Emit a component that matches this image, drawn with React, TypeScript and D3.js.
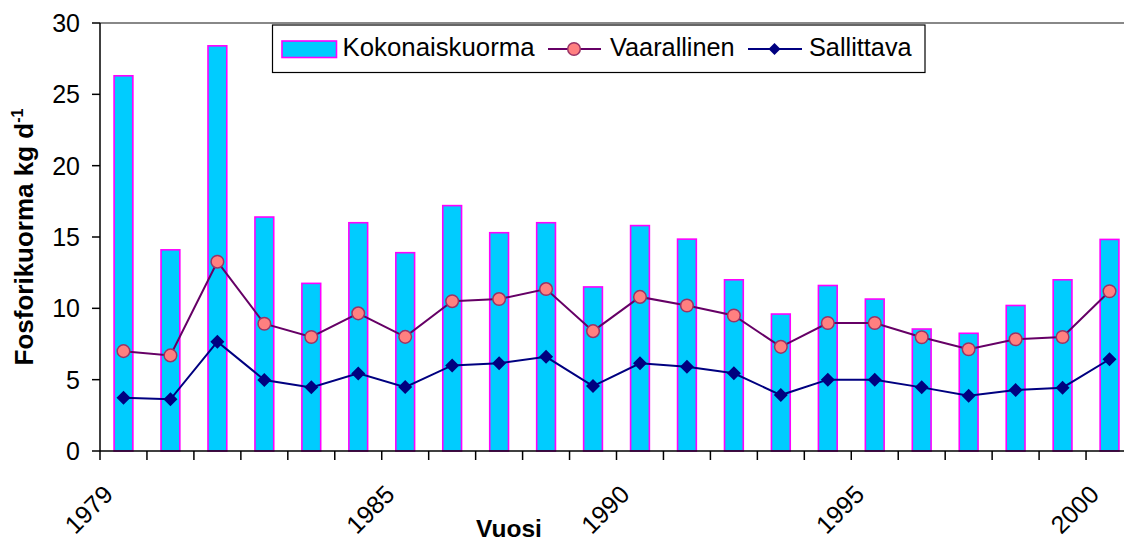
import React from "react";
import * as d3 from "d3";

const years = d3.range(1979, 2001).map(String);
const kokonaiskuorma = [26.3, 14.1, 28.4, 16.4, 11.75, 16.0, 13.9, 17.2, 15.3, 16.0, 11.5, 15.8, 14.85, 12.0, 9.6, 11.6, 10.65, 8.55, 8.25, 10.2, 12.0, 14.83];
const vaarallinen = [7.0, 6.7, 13.27, 8.92, 7.99, 9.65, 8.0, 10.5, 10.65, 11.35, 8.4, 10.8, 10.2, 9.5, 7.3, 8.97, 8.97, 7.97, 7.13, 7.83, 7.99, 11.2];
const sallittava = [3.74, 3.62, 7.66, 4.98, 4.46, 5.44, 4.48, 6.0, 6.15, 6.6, 4.55, 6.15, 5.9, 5.45, 3.92, 5.0, 5.0, 4.46, 3.88, 4.27, 4.44, 6.43];
const yTicks = [0, 5, 10, 15, 20, 25, 30];
const xLabels = ["1979", "1985", "1990", "1995", "2000"];

const W = 1124, H = 542;
const left = 100, top = 23, bottom = 451, right = 1133;
const FONT = "'Liberation Sans', Arial, sans-serif";

export default function App() {
  const x = d3.scaleBand<string>().domain(years).range([left, right]).paddingInner(0).paddingOuter(0);
  const y = d3.scaleLinear().domain([0, 30]).range([bottom, top]);
  const bw = x.bandwidth();
  const barW = bw * 0.4;
  const cx = (yr: string) => (x(yr) as number) + bw / 2;
  const line = d3.line<number>().x((_, i) => cx(years[i])).y((v) => y(v));
  const diamond = (px: number, py: number, r: number) => `M${px},${py - r}L${px + r},${py}L${px},${py + r}L${px - r},${py}Z`;

  return (
    <svg width={W} height={H} style={{ position: "absolute", left: 0, top: 0, background: "#fff" }} fontFamily={FONT}>
      <rect width={W} height={H} fill="#fff" />
      {/* top gridline */}
      <line x1={left} x2={W} y1={y(30)} y2={y(30)} stroke="#888" strokeWidth={2} />
      {/* bars */}
      {years.map((yr, i) => (
        <rect key={yr} x={cx(yr) - barW / 2} y={y(kokonaiskuorma[i])} width={barW} height={bottom - y(kokonaiskuorma[i])}
          fill="#00CCFF" stroke="#FF00FF" strokeWidth={1.6} />
      ))}
      {/* Vaarallinen */}
      <path d={line(vaarallinen) as string} fill="none" stroke="#660066" strokeWidth={2} />
      {vaarallinen.map((v, i) => (
        <circle key={i} cx={cx(years[i])} cy={y(v)} r={6.3} fill="#FF8080" stroke="#993366" strokeWidth={1.5} />
      ))}
      {/* Sallittava */}
      <path d={line(sallittava) as string} fill="none" stroke="#000080" strokeWidth={2} />
      {sallittava.map((v, i) => (
        <path key={i} d={diamond(cx(years[i]), y(v), 7)} fill="#000080" />
      ))}
      {/* axes */}
      <line x1={left} x2={left} y1={top} y2={bottom} stroke="#000" strokeWidth={1.5} />
      <line x1={left} x2={W} y1={bottom} y2={bottom} stroke="#000" strokeWidth={1.5} />
      {yTicks.map((t) => (
        <g key={t}>
          <line x1={left - 8} x2={left} y1={y(t)} y2={y(t)} stroke="#000" strokeWidth={1.5} />
          <text x={80} y={y(t)} dy="0.36em" textAnchor="end" fontSize={25} fill="#000">{t}</text>
        </g>
      ))}
      {years.map((yr) => (
        <line key={yr} x1={x(yr) as number} x2={x(yr) as number} y1={bottom} y2={bottom + 9} stroke="#000" strokeWidth={1.5} />
      ))}
      {xLabels.map((lab) => (
        <text key={lab} transform={`translate(${cx(lab) - 9},${496}) rotate(-45)`} textAnchor="end" fontSize={25} fill="#000">{lab}</text>
      ))}
      {/* axis titles */}
      <text x={509} y={537} textAnchor="middle" fontSize={24.5} fontWeight="bold" fill="#000">Vuosi</text>
      <text transform={`translate(33,237) rotate(-90)`} textAnchor="middle" fontSize={26} fontWeight="bold" fill="#000">
        Fosforikuorma kg d<tspan fontSize={16} dy="-10">-1</tspan>
      </text>
      {/* legend */}
      <rect x={272.5} y={25} width={652.5} height={47.5} fill="#fff" stroke="#000" strokeWidth={1.2} />
      <rect x={282} y={41} width={54.5} height={16.5} fill="#00CCFF" stroke="#FF00FF" strokeWidth={1.6} />
      <text x={342.5} y={56} fontSize={25.8} fill="#000">Kokonaiskuorma</text>
      <line x1={548} x2={601} y1={49} y2={49} stroke="#660066" strokeWidth={2} />
      <circle cx={574} cy={49} r={6.3} fill="#FF8080" stroke="#993366" strokeWidth={1.5} />
      <text x={610} y={56} fontSize={25.3} fill="#000">Vaarallinen</text>
      <line x1={748} x2={802} y1={49} y2={49} stroke="#000080" strokeWidth={2} />
      <path d={diamond(774.5, 49, 6)} fill="#000080" />
      <text x={809} y={56} fontSize={25.3} fill="#000">Sallittava</text>
    </svg>
  );
}
